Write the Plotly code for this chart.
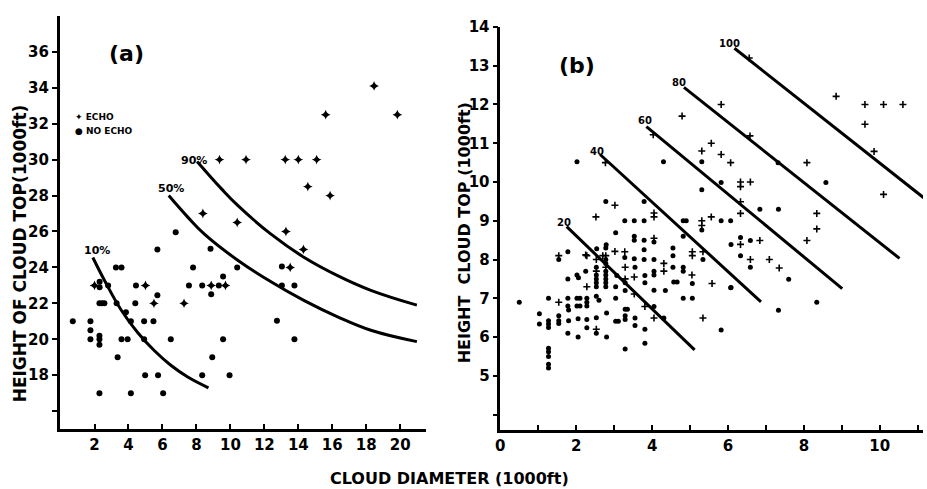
import plotly.graph_objects as go

# ---------------- Panel (a) data ----------------
a_echo_x = [2.0, 5.0, 5.5, 7.27, 8.87, 9.71, 9.36, 10.92, 13.23, 14.0, 15.08, 14.56, 15.87,
            8.38, 10.4, 13.27, 14.3, 13.52, 15.61, 19.83, 18.46]
a_echo_y = [23.0, 23.0, 22.0, 22.0, 23.0, 23.0, 30.0, 30.0, 30.0, 30.0, 30.0, 28.5, 28.0,
            27.0, 26.5, 26.0, 25.0, 24.0, 32.5, 32.5, 34.1]

a_noecho_x = [0.72, 1.76, 1.76, 1.76, 2.29, 2.29, 2.29, 2.29, 2.3, 2.3, 2.8, 2.29, 2.44, 2.58,
              3.3, 3.26, 3.59, 3.36, 3.85, 4.14, 3.59, 3.95, 4.14, 4.4, 4.44, 4.92, 4.92, 4.98,
              5.47, 5.7, 5.7, 5.74, 6.04, 6.49, 6.78, 7.56, 7.8, 8.34, 8.34, 8.83, 8.87, 8.93,
              9.32, 9.57, 9.57, 9.95, 10.4, 12.74, 13.03, 13.03, 13.77, 13.77]
a_noecho_y = [21.0, 21.0, 20.5, 20.0, 20.2, 20.0, 19.7, 17.0, 23.2, 22.9, 23.0, 22.0, 22.0, 22.0,
              22.0, 24.0, 24.0, 19.0, 21.5, 21.0, 20.0, 20.0, 17.0, 22.0, 23.0, 21.0, 20.0, 18.0,
              21.0, 22.45, 25.0, 18.0, 17.0, 20.0, 25.96, 23.0, 24.0, 23.0, 18.0, 25.04, 22.5, 19.0,
              23.0, 23.5, 20.0, 18.0, 24.0, 21.03, 24.05, 23.0, 23.0, 20.0]

a_c10_x = [1.9, 2.59, 3.57, 4.55, 5.53, 6.51, 7.49, 8.71]
a_c10_y = [24.55, 23.27, 21.63, 20.36, 19.36, 18.54, 17.9, 17.3]
a_c50_x = [6.37, 7.49, 8.47, 10.43, 12.39, 14.35, 16.31, 18.27, 20.98]
a_c50_y = [28.0, 26.8, 25.85, 24.4, 23.2, 22.15, 21.25, 20.5, 19.87]
a_c90_x = [8.04, 9.45, 10.43, 12.39, 14.35, 16.31, 18.27, 20.98]
a_c90_y = [29.9, 28.4, 27.45, 25.85, 24.55, 23.54, 22.72, 21.9]

a_xticks = [2, 4, 6, 8, 10, 12, 14, 16, 18, 20]
a_yticks = [16, 18, 20, 22, 24, 26, 28, 30, 32, 34, 36]
a_yticktext = ["", "18", "20", "22", "24", "26", "28", "30", "32", "34", "36"]

# ---------------- Panel (b) data ----------------
b_echo_x = [6.56, 5.82, 4.79, 6.58, 4.03, 5.56, 5.31, 5.82, 6.07, 2.77, 8.08, 8.85, 9.61, 10.1,
            10.61, 9.61, 9.85, 10.1, 6.33, 6.33, 6.59, 6.33, 6.33, 8.34, 8.34, 8.08, 6.84, 6.33,
            6.59, 7.09, 7.35, 5.56, 5.31, 5.31, 4.05, 4.05, 2.52, 3.02, 4.05, 3.02, 3.28, 2.25,
            2.7, 5.06, 5.34, 5.06, 4.31, 3.29, 4.31, 5.05, 3.29, 3.53, 3.53, 5.58, 3.81, 4.05,
            5.34, 2.28, 2.28, 1.54, 1.54, 2.53, 2.78, 2.53, 2.78, 2.53]
b_echo_y = [13.2, 12.0, 11.7, 11.19, 11.22, 11.0, 10.8, 10.71, 10.5, 10.5, 10.5, 12.21, 12.0, 12.0,
            12.0, 11.49, 10.79, 9.68, 10.0, 9.88, 10.0, 9.49, 9.19, 9.19, 8.79, 8.49, 8.49, 8.39,
            8.0, 8.0, 7.78, 9.1, 9.0, 8.88, 9.2, 9.1, 9.1, 9.4, 8.55, 8.21, 8.2, 8.12,
            8.1, 8.2, 8.2, 8.1, 7.9, 7.8, 7.7, 7.6, 7.5, 7.55, 7.11, 7.38, 6.79, 6.49,
            6.49, 8.1, 7.3, 8.1, 6.9, 7.7, 7.8, 8.0, 8.1, 6.2]

b_noecho_x = [2.02, 4.3, 5.31, 7.32, 8.58, 5.82, 5.31, 6.84, 7.33, 5.82, 6.07, 5.31, 6.33, 6.08,
              6.59, 6.33, 6.59, 7.6, 6.08, 8.34, 7.33, 5.82, 4.82, 4.9, 4.82, 3.28, 3.53, 3.79,
              3.79, 2.78, 3.04, 2.54, 2.79, 3.53, 3.53, 3.79, 4.05, 4.55, 3.79, 4.55, 4.05, 3.53,
              3.79, 5.34, 1.78, 1.54, 3.28,
              3.07, 3.55, 3.81, 4.05, 4.05, 4.55, 4.82, 4.82, 3.04, 3.29, 3.29, 3.81, 4.05, 4.35,
              4.57, 4.66, 5.06, 3.04, 4.82, 5.06, 3.29, 3.35, 3.29, 3.29, 3.04, 3.11, 3.55, 3.55,
              4.05, 4.31, 3.81, 3.81, 3.29, 6.07,
              0.5, 1.03, 1.03, 1.27, 1.27, 1.27, 1.27, 1.27, 1.27, 1.27, 1.27, 1.27, 1.54, 1.54,
              1.54, 1.78, 1.78, 1.78, 1.8, 1.8, 1.78, 2.02, 2.06, 2.02, 2.1, 2.02, 2.1, 2.05,
              2.05, 2.25, 2.28, 2.28, 2.28, 2.28, 2.28, 2.53, 2.6, 2.53, 2.53, 2.8, 2.8, 2.78,
              2.53, 2.53, 2.53, 2.53, 2.53, 2.78, 2.78, 2.78, 2.78, 2.78, 2.78, 2.78]
b_noecho_y = [10.52, 10.52, 10.52, 10.5, 9.99, 9.99, 9.8, 9.3, 9.3, 9.0, 9.0, 8.76, 8.57, 8.39,
              8.49, 8.1, 7.8, 7.49, 7.28, 6.9, 6.69, 6.18, 9.0, 9.0, 8.6, 9.0, 9.0, 9.0,
              9.5, 9.5, 8.69, 8.28, 8.38, 8.6, 8.5, 8.5, 8.45, 8.3, 8.25, 8.1, 8.0, 8.02,
              8.0, 8.0, 8.2, 8.0, 8.05,
              7.59, 7.8, 7.59, 7.7, 7.6, 7.8, 7.8, 7.7, 7.3, 7.4, 7.2, 7.4, 7.21, 7.2,
              7.42, 7.42, 7.38, 7.0, 7.0, 7.0, 6.72, 6.72, 6.55, 6.45, 6.41, 6.41, 6.49, 6.3,
              6.79, 6.49, 6.2, 5.84, 5.69, 7.27,
              6.9, 6.6, 6.34, 7.0, 6.42, 6.34, 6.25, 5.71, 5.62, 5.5, 5.3, 5.2, 6.55, 6.42,
              6.35, 7.5, 7.0, 6.8, 6.7, 6.42, 6.1, 7.6, 7.53, 7.0, 7.0, 6.8, 6.8, 6.47,
              6.0, 7.7, 7.0, 6.9, 6.8, 6.45, 6.24, 7.05, 6.95, 6.5, 6.1, 6.62, 6.0, 8.3,
              7.8, 7.6, 7.5, 7.4, 7.3, 8.0, 7.9, 7.7, 7.6, 7.5, 7.4, 7.3]

b_lines_x = {"20": [1.75, 5.12], "40": [2.63, 6.87], "60": [3.85, 9.01],
             "80": [4.84, 10.52], "100": [6.17, 11.24]}
b_lines_y = {"20": [8.85, 5.67], "40": [10.71, 6.91], "60": [11.43, 7.25],
             "80": [12.44, 8.03], "100": [13.45, 9.53]}

b_xticks = list(range(0, 12))
b_xticktext = ["0", "", "2", "", "4", "", "6", "", "8", "", "10", ""]
b_yticks = list(range(4, 15))
b_yticktext = ["", "5", "6", "7", "8", "9", "10", "11", "12", "13", "14"]

FONT = "DejaVu Sans"
W, H = 927, 489


def fx(px):
    return px / W


def fy(py):
    return 1 - py / H


fig = go.Figure()

# panel (a)
for cx, cy in [(a_c10_x, a_c10_y), (a_c50_x, a_c50_y), (a_c90_x, a_c90_y)]:
    fig.add_trace(go.Scatter(x=cx, y=cy, mode="lines",
                             line=dict(color="black", width=3, shape="spline", smoothing=1.2),
                             xaxis="x", yaxis="y", hoverinfo="skip"))
fig.add_trace(go.Scatter(x=a_noecho_x, y=a_noecho_y, mode="markers", name="NO ECHO",
                         marker=dict(symbol="circle", size=6, color="black"), xaxis="x", yaxis="y"))
fig.add_trace(go.Scatter(x=a_echo_x, y=a_echo_y, mode="markers", name="ECHO",
                         marker=dict(symbol="star-diamond", size=7, color="black"), xaxis="x", yaxis="y"))

# panel (b)
for k in b_lines_x:
    fig.add_trace(go.Scatter(x=b_lines_x[k], y=b_lines_y[k], mode="lines",
                             line=dict(color="black", width=3), xaxis="x2", yaxis="y2", hoverinfo="skip"))
fig.add_trace(go.Scatter(x=b_noecho_x, y=b_noecho_y, mode="markers",
                         marker=dict(symbol="circle", size=5, color="black"), xaxis="x2", yaxis="y2"))
fig.add_trace(go.Scatter(x=b_echo_x, y=b_echo_y, mode="markers",
                         marker=dict(symbol="cross-thin", size=5, color="black",
                                     line=dict(width=1.6, color="black")), xaxis="x2", yaxis="y2"))

tickfont = dict(family=FONT, size=15, color="black", weight="bold")
axcommon = dict(showline=True, linewidth=2.5, linecolor="black", showgrid=False, zeroline=False,
                tickwidth=2, tickcolor="black", ticklen=5, tickfont=tickfont, fixedrange=True)

fig.update_layout(
    width=W, height=H, margin=dict(l=0, r=0, t=0, b=0),
    paper_bgcolor="white", plot_bgcolor="white", showlegend=False,
    xaxis=dict(domain=[fx(55), fx(423)], range=[-0.05, 21.5], tickvals=a_xticks, ticks="inside",
               anchor="y", **axcommon),
    yaxis=dict(domain=[fy(428), fy(7)], range=[15.0, 38.0], tickvals=a_yticks, ticktext=a_yticktext,
               ticks="outside", anchor="x", **axcommon),
    xaxis2=dict(domain=[fx(498), fx(923)], range=[0.0, 11.14], tickvals=b_xticks, ticktext=b_xticktext,
                ticks="inside", anchor="y2", **axcommon),
    yaxis2=dict(domain=[fy(429), fy(18.3)], range=[3.6, 14.0], tickvals=b_yticks, ticktext=b_yticktext,
                ticks="outside", anchor="x2", **axcommon),
)

ann = []


def addtext(text, px, py, size, angle=0, xanchor="center"):
    ann.append(dict(text="<b>" + text + "</b>", x=fx(px), y=fy(py), xref="paper", yref="paper",
                    showarrow=False, textangle=angle, xanchor=xanchor, yanchor="middle",
                    font=dict(family=FONT, size=size, color="black")))


addtext("HEIGHT OF CLOUD TOP(1000ft)", 15, 249, 17, angle=-90)
addtext("HEIGHT  CLOUD TOP (1000ft)", 462, 228, 16, angle=-90)
addtext("CLOUD DIAMETER (1000ft)", 447, 478, 16)
addtext("(a)", 122, 45, 22)
addtext("(b)", 575, 58, 22)
addtext("✦ ECHO", 68, 110, 9, xanchor="left")
addtext("● NO ECHO", 68, 124, 9, xanchor="left")
addtext("10%", 92, 246, 11)
addtext("50%", 167, 183, 11)
addtext("90%", 190, 154, 11)
addtext("20", 562, 217, 10)
addtext("40", 595, 145, 10)
addtext("60", 643, 114, 10)
addtext("80", 678, 75, 10)
addtext("100", 728, 35, 10)
fig.update_layout(annotations=ann)

fig.write_html("out.html")
